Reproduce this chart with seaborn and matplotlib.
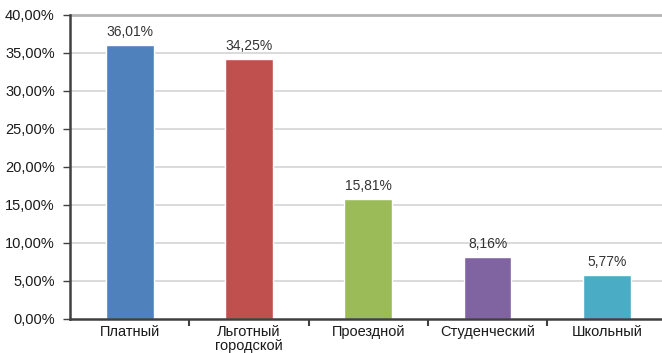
import matplotlib
matplotlib.use("Agg")
import matplotlib.pyplot as plt
import seaborn as sns
import pandas as pd

# Ticket types and share of respondents (%)
categories = ["Платный", "Льготный\nгородской", "Проездной", "Студенческий", "Школьный"]
shares = [36.01, 34.25, 15.81, 8.16, 5.77]
colors = ["#4F81BD", "#C0504D", "#9BBB59", "#8064A2", "#4BACC6"]
y_ticks = [0, 5, 10, 15, 20, 25, 30, 35, 40]

sns.set_theme(style="white")
plt.rcParams["font.family"] = ["Liberation Sans", "DejaVu Sans"]

df = pd.DataFrame({"cat": categories, "share": shares})

W, H = 662, 353
fig = plt.figure(figsize=(W / 100, H / 100), dpi=100)
left, right, top, bottom = 70, 662, 15, 319
step = 119.3  # pixel width of one category slot
ax = fig.add_axes([left / W, 1 - bottom / H, (right - left) / W, (bottom - top) / H])

sns.barplot(data=df, x="cat", y="share", hue="cat", palette=colors,
            legend=False, width=0.40, ax=ax, saturation=1)

ax.set_xlim(-0.5, (right - left) / step - 0.5)
ax.set_ylim(0, 40)
ax.set_yticks(y_ticks)
ax.set_yticklabels([f"{v:.2f}%".replace(".", ",") for v in y_ticks], fontsize=10.5, color="#1a1a1a")
ax.set_xlabel("")
ax.set_ylabel("")

# horizontal gridlines
for v in y_ticks[1:-1]:
    ax.axhline(v, color="#d4d4d4", lw=1.2, zorder=0)
ax.axhline(40, color="#b4b4b4", lw=2.0, zorder=0, clip_on=False)

for s in ["top", "right"]:
    ax.spines[s].set_visible(False)
ax.spines["left"].set_color("#404040")
ax.spines["left"].set_linewidth(1.8)
ax.spines["bottom"].set_color("#404040")
ax.spines["bottom"].set_linewidth(1.8)

ax.tick_params(axis="y", which="major", left=True, length=5, width=1, color="#404040", pad=6)

# category labels centred, boundary ticks between categories
ax.set_xticks(range(len(categories)))
ax.set_xticklabels(categories, fontsize=10.5, color="#1a1a1a", linespacing=1.0)
ax.tick_params(axis="x", which="major", bottom=False, length=0, pad=4)
ax.set_xticks([i + 0.5 for i in range(len(categories) - 1)], minor=True)
ax.tick_params(axis="x", which="minor", bottom=True, length=5, width=1.5, color="#404040")

for i, v in enumerate(shares):
    ax.text(i, v + 0.8, f"{v:.2f}%".replace(".", ","), ha="center", va="bottom",
            fontsize=10, color="#333333")

fig.savefig("out.png", dpi=100)
